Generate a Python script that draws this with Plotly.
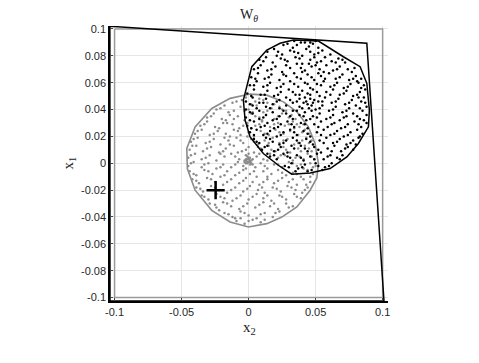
import numpy as np
import plotly.graph_objects as go

# sample clouds, in units of 0.001: (x2, x1)
gray_pts = [
    (-12, 45), (-5, 47), (2, 44), (8, 48), (14, 45), (19, 44), (-2, 49), (5, 46),
    (-24, 40), (-18, 43), (-11, 39), (-6, 42), (0, 40), (6, 43), (11, 38), (17, 41), (23, 42), (28, 39), (-15, 38), (3, 38),
    (-31, 34), (-26, 37), (-20, 33), (-14, 36), (-8, 35), (-3, 32), (2, 37), (8, 34), (13, 36), (19, 33), (25, 37), (30, 34), (35, 33), (-17, 32), (10, 32),
    (-36, 28), (-31, 31), (-25, 27), (-19, 30), (-12, 29), (-7, 26), (-1, 30), (5, 28), (10, 31), (16, 27), (22, 30), (27, 28), (33, 31), (38, 27), (41, 29), (-22, 26), (2, 26),
    (-40, 22), (-35, 25), (-29, 21), (-23, 24), (-17, 22), (-11, 25), (-6, 21), (0, 23), (4, 20), (9, 24), (15, 21), (20, 25), (26, 22), (31, 24), (37, 21), (42, 25), (45, 22), (-14, 20),
    (-43, 16), (-38, 19), (-32, 15), (-26, 18), (-21, 14), (-15, 17), (-9, 19), (-4, 15), (2, 18), (7, 14), (12, 17), (18, 19), (23, 15), (29, 18), (34, 14), (40, 17), (45, 15), (47, 17), (-1, 20),
    (-44, 10), (-39, 13), (-34, 9), (-28, 12), (-22, 8), (-17, 11), (-11, 13), (-5, 9), (0, 12), (4, 8), (9, 11), (15, 13), (20, 9), (26, 12), (31, 8), (37, 11), (42, 13), (47, 9), (-8, 8),
    (-45, 4), (-40, 7), (-35, 3), (-29, 6), (-24, 2), (-18, 5), (-13, 7), (-7, 3), (-2, 6), (1, 4), (-3, 2), (0, 7), (6, 5), (11, 3), (16, 7), (22, 4), (27, 6), (33, 2), (38, 5), (44, 7), (49, 3),
    (-1, 3), (0, 1), (-2, 2), (1, 2), (-1, 0), (0, 4), (-3, 1), (2, 0), (-1, 5), (1, -1),
    (-45, -2), (-41, 1), (-35, -3), (-30, 0), (-24, -4), (-19, -1), (-13, -3), (-8, 1), (-4, -2), (5, -3), (9, 0), (14, -4), (19, -1), (25, -3), (30, 1), (36, -2), (41, -4), (46, 0), (50, -2),
    (-44, -6), (-39, -9), (-33, -5), (-27, -8), (-21, -10), (-16, -6), (-10, -9), (-4, -5), (1, -8), (6, -10), (11, -6), (17, -8), (22, -5), (28, -9), (33, -7), (39, -10), (44, -5), (48, -8),
    (-42, -12), (-37, -15), (-31, -11), (-25, -14), (-19, -16), (-13, -12), (-7, -15), (-2, -11), (3, -14), (8, -16), (14, -12), (19, -15), (25, -11), (30, -14), (36, -16), (41, -12), (46, -14),
    (-39, -18), (-34, -21), (-28, -17), (-22, -20), (-16, -22), (-10, -18), (-4, -21), (1, -17), (7, -20), (12, -22), (18, -18), (24, -21), (29, -17), (35, -20), (40, -22), (44, -18),
    (-35, -24), (-30, -27), (-24, -23), (-18, -26), (-12, -28), (-6, -24), (0, -27), (6, -23), (11, -26), (17, -28), (23, -24), (28, -27), (34, -23), (39, -26),
    (-29, -30), (-24, -33), (-19, -29), (-13, -32), (-7, -34), (-1, -30), (5, -33), (11, -29), (16, -32), (22, -34), (28, -30), (33, -32),
    (-18, -37), (-12, -40), (-6, -36), (0, -39), (6, -41), (12, -37), (18, -40), (23, -36), (-22, -35),
    (-9, -43), (-3, -45), (3, -42), (9, -44), (-6, -41),
]
gray_pts_more = [
    (-9, 46), (11, 47), (-21, 41), (-3, 39), (14, 39), (25, 40), (-28, 35), (-11, 33), (5, 35), (22, 35), (32, 36),
    (-33, 29), (-16, 30), (-4, 28), (8, 29), (19, 29), (30, 29), (36, 29), (-38, 24), (-26, 22), (-8, 24), (12, 22),
    (23, 23), (34, 26), (40, 23), (-41, 18), (-29, 16), (-18, 19), (-6, 17), (4, 16), (15, 15), (26, 17), (37, 15),
    (43, 19), (-42, 13), (-31, 11), (-19, 9), (-14, 14), (-2, 10), (7, 12), (17, 10), (28, 10), (39, 9), (45, 11),
    (-43, 6), (-32, 4), (-21, 7), (-10, 5), (3, 3), (8, 7), (14, 2), (24, 6), (35, 4), (41, 3), (47, 5), (-43, 0),
    (-33, -1), (-21, -3), (-10, -1), (-2, -4), (3, -1), (12, -2), (22, -1), (33, 0), (39, -1), (48, -3), (-41, -8),
    (-30, -6), (-18, -9), (-7, -7), (4, -6), (14, -10), (25, -7), (36, -8), (46, -10), (-39, -13), (-28, -12),
    (-16, -14), (-4, -13), (11, -14), (22, -13), (33, -12), (43, -16), (-36, -19), (-25, -18), (-13, -20), (-1, -19),
    (10, -18), (21, -19), (32, -18), (42, -20), (-33, -25), (-21, -25), (-9, -26), (3, -25), (14, -24), (25, -25),
    (36, -25), (-25, -31), (-16, -30), (-4, -32), (8, -31), (19, -30), (30, -33), (-15, -38), (-3, -37), (9, -38),
    (20, -37), (-10, -41), (0, -43), (12, -42), (-2, 3), (1, 1), (-1, 1), (0, 3), (-2, 0), (2, 2),
]

black_pts = [
    (26, 88), (34, 91), (36, 88), (42, 90), (48, 89), (50, 91), (33, 86), (45, 87), (52, 86),
    (14, 83), (19, 85), (25, 81), (31, 84), (37, 82), (43, 85), (49, 81), (55, 84), (61, 81), (40, 80),
    (8, 77), (13, 79), (18, 75), (24, 78), (29, 76), (35, 79), (40, 74), (46, 77), (51, 75), (57, 79), (62, 76), (67, 78), (72, 75), (21, 80),
    (4, 70), (9, 73), (14, 69), (20, 72), (25, 68), (31, 71), (36, 74), (42, 69), (47, 72), (53, 70), (58, 73), (63, 69), (68, 72), (74, 70), (79, 71), (45, 74),
    (2, 64), (7, 67), (12, 63), (17, 66), (23, 62), (28, 65), (34, 67), (39, 63), (44, 66), (49, 62), (54, 65), (60, 67), (65, 63), (70, 66), (75, 62), (80, 65), (84, 63), (40, 68),
    (1, 58), (6, 61), (11, 57), (16, 60), (21, 56), (26, 59), (31, 61), (37, 57), (42, 60), (46, 56), (51, 59), (56, 61), (61, 57), (66, 60), (71, 56), (76, 59), (81, 61), (86, 58),
    (-1, 52), (4, 55), (9, 51), (14, 54), (19, 50), (24, 53), (30, 55), (35, 51), (40, 54), (44, 52), (48, 55), (53, 50), (58, 53), (63, 55), (68, 51), (73, 54), (78, 50), (83, 53), (87, 55),
    (43, 46), (46, 48), (44, 44), (48, 45), (42, 49), (47, 43),
    (-2, 46), (3, 49), (8, 45), (13, 48), (18, 44), (23, 47), (28, 49), (33, 45), (38, 48), (52, 46), (57, 49), (62, 45), (67, 48), (72, 44), (77, 47), (82, 49), (87, 45),
    (-2, 40), (3, 43), (8, 39), (13, 42), (18, 38), (23, 41), (28, 43), (33, 39), (38, 42), (42, 38), (50, 40), (55, 43), (60, 39), (65, 42), (70, 38), (75, 41), (80, 43), (85, 39), (88, 42),
    (-2, 34), (3, 37), (8, 33), (13, 36), (18, 32), (23, 35), (28, 37), (33, 33), (38, 36), (43, 32), (48, 35), (53, 37), (58, 33), (63, 36), (68, 32), (73, 35), (78, 37), (83, 33), (88, 36),
    (-1, 28), (4, 31), (9, 27), (14, 30), (19, 26), (24, 29), (29, 31), (34, 27), (39, 30), (44, 26), (49, 29), (54, 31), (59, 27), (64, 30), (69, 26), (74, 29), (79, 31), (84, 27), (88, 30),
    (1, 23), (6, 25), (11, 21), (16, 24), (21, 20), (26, 23), (31, 25), (36, 21), (41, 24), (46, 20), (51, 23), (56, 25), (61, 21), (66, 24), (71, 20), (76, 23), (81, 25), (85, 22),
    (4, 18), (8, 15), (13, 19), (18, 16), (23, 14), (28, 17), (33, 19), (38, 15), (43, 18), (48, 14), (53, 17), (58, 19), (63, 15), (68, 18), (73, 14), (78, 17), (82, 19),
    (10, 10), (14, 13), (19, 9), (24, 12), (29, 8), (34, 11), (39, 13), (44, 9), (49, 12), (54, 8), (59, 11), (64, 13), (69, 9), (74, 12), (78, 10),
    (16, 5), (21, 3), (26, 7), (31, 4), (36, 6), (41, 2), (46, 5), (51, 7), (56, 3), (61, 6), (66, 4), (70, 6), (14, 7),
    (27, -2), (32, 0), (37, -4), (42, -1), (47, -5), (52, -2), (57, -3), (62, 0), (35, -6), (44, -6),
]
black_pts_more = [
    (29, 89), (39, 90), (46, 90), (22, 83), (34, 83), (46, 83), (52, 82), (11, 76), (27, 77), (38, 78), (49, 79),
    (54, 76), (65, 75), (70, 77), (7, 71), (17, 70), (28, 73), (39, 71), (50, 73), (56, 68), (66, 70), (77, 68),
    (5, 63), (15, 64), (26, 66), (36, 64), (47, 64), (52, 67), (57, 63), (68, 64), (78, 63), (82, 60), (4, 58),
    (14, 58), (24, 57), (34, 59), (44, 59), (54, 58), (64, 58), (74, 57), (84, 56), (2, 50), (12, 51), (22, 51),
    (33, 53), (38, 51), (46, 51), (51, 53), (61, 51), (71, 52), (81, 51), (86, 49), (1, 44), (11, 45), (21, 46),
    (31, 47), (36, 46), (41, 45), (45, 41), (49, 47), (55, 46), (65, 46), (75, 45), (84, 46), (1, 38), (6, 41),
    (16, 41), (26, 39), (36, 39), (40, 41), (47, 39), (53, 41), (63, 40), (73, 39), (83, 41), (1, 32), (11, 34),
    (21, 33), (31, 35), (41, 35), (46, 33), (51, 34), (61, 34), (71, 34), (81, 35), (86, 32), (2, 26), (12, 28),
    (22, 27), (32, 29), (42, 29), (52, 27), (62, 29), (72, 27), (82, 29), (4, 21), (14, 22), (24, 21), (34, 23),
    (44, 22), (54, 21), (64, 22), (74, 21), (83, 20), (6, 16), (16, 18), (26, 15), (36, 17), (46, 16), (56, 15),
    (66, 16), (76, 15), (80, 14), (12, 12), (22, 10), (32, 13), (42, 11), (52, 10), (62, 9), (72, 11), (19, 6),
    (29, 5), (39, 4), (49, 3), (59, 5), (68, 3), (30, -3), (40, -3), (50, 0), (55, -5), (60, -2),
]

# hull outlines
gray_hull_x2 = [0.001, 0.0136, 0.026, 0.036, 0.0446, 0.0496, 0.0521, 0.0509, 0.0459, 0.036, 0.0248,
                0.0136, -0.0001, -0.0138, -0.0275, -0.0399, -0.0457, -0.0461, -0.0399, -0.0275, -0.0138]
gray_hull_x1 = [0.0515, 0.0507, 0.0457, 0.0383, 0.0271, 0.0147, -0.0002, -0.011, -0.0201, -0.0326, -0.0401,
                -0.045, -0.0475, -0.0438, -0.0351, -0.0201, -0.004, 0.011, 0.0271, 0.0408, 0.0483]

black_hull_x2 = [0.0334, 0.0521, 0.0707, 0.0832, 0.0882, 0.0901, 0.0894, 0.0819, 0.0733, 0.0608, 0.0459,
                 0.0322, 0.0222, 0.011, 0.0011, -0.0026, -0.0039, 0.0024, 0.0136, 0.0235]
black_hull_x1 = [0.0918, 0.091, 0.0793, 0.0719, 0.0595, 0.0396, 0.0271, 0.0147, 0.0047, -0.004, -0.0072,
                 -0.0082, -0.0015, 0.0072, 0.0196, 0.0321, 0.047, 0.0719, 0.0843, 0.0893]

# input box and its image
box_x2 = [-0.1, 0.1, 0.1, -0.1]
box_x1 = [0.1, 0.1, -0.1, -0.1]
quad_x2 = [-0.1035, 0.0882, 0.101, -0.1034]
quad_x1 = [0.102, 0.0893, -0.1026, -0.1026]

plus_x2 = [-0.0246]
plus_x1 = [-0.0201]

xticks = [-0.1, -0.05, 0, 0.05, 0.1]
xtick_text = ["-0.1", "-0.05", "0", "0.05", "0.1"]
yticks = [-0.1, -0.08, -0.06, -0.04, -0.02, 0, 0.02, 0.04, 0.06, 0.08, 0.1]
ytick_text = ["-0.1", "-0.08", "-0.06", "-0.04", "-0.02", "0", "0.02", "0.04", "0.06", "0.08", "0.1"]


def closed(a):
    return list(a) + [a[0]]


g = np.array(gray_pts + gray_pts_more) / 1000.0
b = np.array(black_pts + black_pts_more) / 1000.0

fig = go.Figure()
fig.add_trace(go.Scatter(x=closed(box_x2), y=closed(box_x1), mode="lines",
                         line=dict(color="#9a9a9a", width=1.5)))
fig.add_trace(go.Scatter(x=g[:, 0], y=g[:, 1], mode="markers",
                         marker=dict(color="#8c8c8c", size=2.5, line=dict(width=0))))
fig.add_trace(go.Scatter(x=closed(gray_hull_x2), y=closed(gray_hull_x1), mode="lines",
                         line=dict(color="#8c8c8c", width=1.6)))
fig.add_trace(go.Scatter(x=b[:, 0], y=b[:, 1], mode="markers",
                         marker=dict(color="black", size=2.5, line=dict(width=0))))
fig.add_trace(go.Scatter(x=closed(black_hull_x2), y=closed(black_hull_x1), mode="lines",
                         line=dict(color="black", width=1.5)))
fig.add_trace(go.Scatter(x=closed(quad_x2), y=closed(quad_x1), mode="lines",
                         line=dict(color="black", width=1.5)))
fig.add_trace(go.Scatter(x=plus_x2, y=plus_x1, mode="markers",
                         marker=dict(symbol="cross-thin", size=13, line=dict(color="black", width=2.5))))

axis_font = dict(family="Liberation Sans, Arial, sans-serif", size=11, color="#262626")
fig.update_xaxes(range=[-0.1034, 0.104], tickvals=xticks, ticktext=xtick_text,
                 showgrid=True, gridcolor="#e6e6e6", gridwidth=1, zeroline=False,
                 showline=True, linecolor="black", linewidth=1.5,
                 ticks="inside", ticklen=3, tickcolor="#444", tickfont=axis_font)
fig.update_yaxes(range=[-0.1026, 0.1022], tickvals=yticks, ticktext=ytick_text,
                 showgrid=True, gridcolor="#e6e6e6", gridwidth=1, zeroline=False,
                 showline=True, linecolor="black", linewidth=1.5,
                 ticks="inside", ticklen=3, tickcolor="#444", tickfont=axis_font)

# the page body adds an 8px offset, so the figure is a bit smaller than the window
serif = dict(family="Liberation Serif, Times New Roman, serif", size=15, color="#222")
fig.update_layout(
    width=471, height=355,
    margin=dict(l=102, r=91, t=18, b=62),
    plot_bgcolor="white", paper_bgcolor="white",
    showlegend=False,
    annotations=[
        dict(text="W<sub><i>θ</i></sub>", x=0.5, y=1.0, xref="paper", yref="paper",
             yanchor="middle", yshift=11, showarrow=False,
             font=dict(family="Liberation Serif, Times New Roman, serif", size=14, color="#222")),
        dict(text="x<sub>2</sub>", x=0.5, y=0, xref="paper", yref="paper",
             yanchor="middle", yshift=-27, showarrow=False, font=serif),
        dict(text="x<sub>1</sub>", x=0, y=0.5, xref="paper", yref="paper",
             xanchor="center", xshift=-42, showarrow=False, textangle=-90, font=serif),
    ],
)

fig.write_html("out.html")
